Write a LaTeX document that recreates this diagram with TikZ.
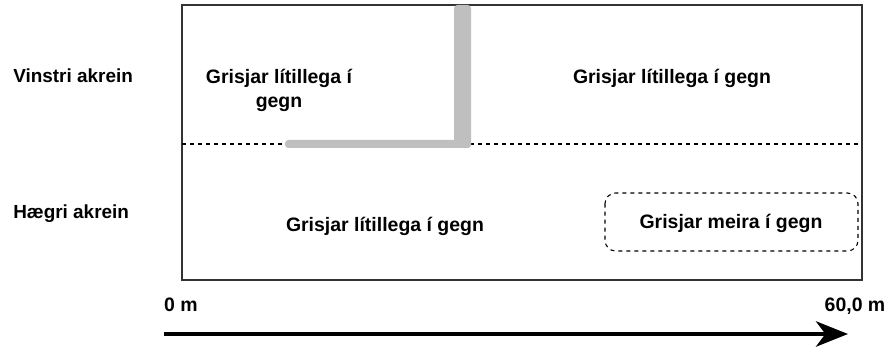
\documentclass[tikz,border=0pt]{standalone}
\usepackage{fontspec}
\setmainfont{Liberation Sans}
\usetikzlibrary{arrows.meta}

\begin{document}
\begin{tikzpicture}[x=0.75pt, y=-0.75pt,
    lanelbl/.style={font=\bfseries\fontsize{14.2}{18}\selectfont, inner sep=0pt},
    lbl/.style={font=\bfseries\fontsize{14.6}{18}\selectfont, inner sep=0pt},
    barrier/.style={fill=black!25, draw=none, rounded corners=2.5pt}]
      \useasboundingbox (0,0) rectangle (889,349);
      \draw[draw=black!80, line width=1.1pt] (182,5) rectangle (862,280);
      \draw[draw=black, line width=0.8pt, dashed] (182,144) -- (862,144);
      % gray barrier
      \fill[barrier] (285,140) rectangle (471,148);
      \fill[barrier] (454,5) rectangle (471,148);
      % lane names
      \node[lanelbl, right] (vinstri) at (13,76) {Vinstri akrein};
      \node[lanelbl, right] (haegri) at (13,214) {Hægri akrein};
      % zones
      \node[lbl, align=center] (zoneA) at (279,90) {Grisjar lítillega í\\gegn};
      \node[lbl] (zoneB) at (672,78) {Grisjar lítillega í gegn};
      \node[lbl] (zoneC) at (385,226) {Grisjar lítillega í gegn};
      \draw[draw=black, line width=0.8pt, dashed, rounded corners=8pt] (605,193) rectangle (858,251);
      \node[lbl] (zoneD) at (731,223) {Grisjar meira í gegn};
      % distance
      \node[lbl] (start) at (181,305) {0 m};
      \node[lbl] (end) at (855,306) {60,0 m};
      \coordinate (from) at (164,334);
      \coordinate (to) at (848,334);
      \draw[line width=3pt, -{Stealth[length=24pt, width=19pt, inset=7pt]}] (from) -- (to);
\end{tikzpicture}
\end{document}
